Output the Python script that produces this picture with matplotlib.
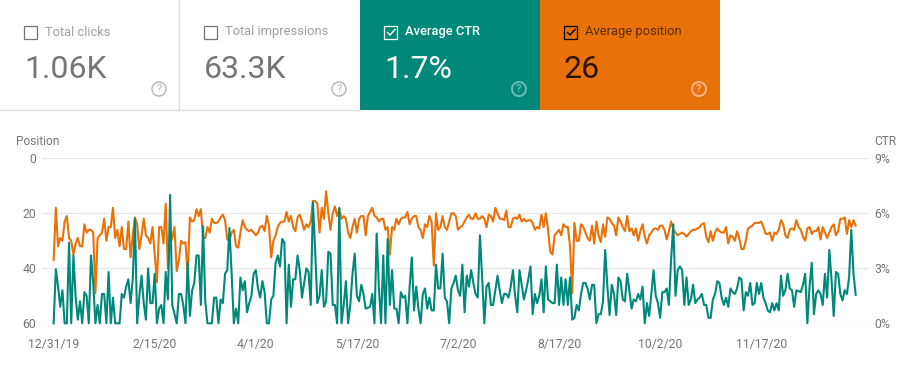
import matplotlib
matplotlib.use('Agg')
import matplotlib.pyplot as plt
from matplotlib.patches import Rectangle, Circle

plt.rcParams['font.family'] = ['Roboto', 'DejaVu Sans']

TEAL = '#00897B'
ORANGE = '#E8710A'
GRAY = '#757575'

card_titles = ['Total clicks', 'Total impressions', 'Average CTR', 'Average position']
card_values = ['1.06K', '63.3K', '1.7%', '26']

x_labels = ['12/31/19', '2/15/20', '4/1/20', '5/17/20', '7/2/20', '8/17/20', '10/2/20', '11/17/20']
x_days = [0, 46, 92, 138, 184, 230, 276, 322]
position_ticks = [0, 20, 40, 60]
ctr_ticks = [0, 3, 6, 9]

# one value per day
position = [
    37, 18, 32, 29, 30, 23, 21, 29, 30, 35, 31, 29, 32, 32, 24, 27, 26, 26, 27, 49,
    29, 28, 27, 22, 30, 25, 25, 18, 29, 26, 32, 25, 33, 33, 23, 36, 28, 21.5, 24, 33,
    28, 22, 28, 29, 31, 25, 35, 45, 25, 25, 31, 16.5, 40, 31, 29, 25, 41, 37, 30, 31,
    30.5, 43, 21.5, 23, 22.5, 18.5, 21, 18.5, 29, 29, 25, 27, 22, 23.5, 23.5, 23, 21.5, 20.5, 22.5, 29.5,
    30, 27, 26, 32, 32.5, 27, 22.5, 25, 26, 26.5, 26, 27, 28, 27, 25, 24.5, 26.5, 21, 24.5, 36,
    30, 28, 25, 23.5, 23, 23, 19.5, 23, 21, 25, 26.5, 21.5, 20.5,
    23, 26, 24, 25, 23, 15.5, 15.5, 16.5, 27, 18, 22, 12, 20, 26, 20, 17.5, 21, 18.5, 22, 21,
    22, 27, 29, 25, 22, 27, 22, 21, 21, 28, 21, 19.5, 18, 21, 21.5, 23, 22, 22, 26, 25,
    35, 25, 26, 22, 24, 22, 21.5, 21.5, 19.5, 24, 22, 21, 21, 25, 26, 29, 24, 25, 21, 23,
    39, 20, 26, 25, 21, 25, 26, 23, 20, 20, 21, 26, 25, 24.5, 23, 21.5, 20.5, 22, 22, 20,
    22, 22, 21, 22, 25, 20.5, 21, 23, 18, 20, 22, 22, 22.5, 19, 25, 25, 22, 21.5, 22, 20.5,
    23, 22, 23, 22.5, 22.5, 23.5, 26, 25, 25.5, 20.5, 25, 20, 26, 34, 35, 28, 27, 26, 28, 24,
    25, 25, 32, 49, 23.5, 30, 30, 24, 25, 27, 29, 30, 24.5, 31, 23, 28,
    30.5, 24, 28.5, 21.5, 22, 23.5, 24.5, 28, 21.5, 23, 25, 26.5, 21, 26.5, 25.5, 28, 25.5, 30, 26.5, 24,
    28.5, 31, 28, 27, 25.7, 25.5, 26, 24.5, 24.5, 26, 29.5, 26.5, 23, 26, 27, 28, 27.5, 27, 27.5, 28.5,
    27.5, 26.5, 26, 26, 25.5, 25, 24, 23.6, 28.5, 30.5, 26.5, 30, 27, 25.5, 26.5, 27, 27, 25, 31, 28,
    28.5, 30, 26.5, 29, 33, 33, 30, 25.5, 25, 24.5, 23.5, 23.5, 23.5, 23, 25, 27.5, 27.5, 27, 30, 27,
    27.5, 26, 22.5, 24, 28, 29, 26, 25.5, 26, 22.5, 25, 26, 28.5, 30, 25.5, 25, 27.5, 26.5, 26.5, 25,
    29.5, 25, 27, 29, 27, 25, 24, 28, 26.5, 22, 22, 21.5, 27.5, 22.5, 25, 22.5, 24.5,
]

ctr = [
    0, 2.95, 2, .9, 1.8, 0, 0, 4.4, 0, 3.7, 1.45, .2, 1.2, 0, 1.7, 1.5, 0, 3.7, 2.2, 0,
    1, 0, 1.6, 1.6, 0, 2.8, 0, 1.4, 0, 0, 0, 1.6, 1.4, 2, 2.4, 1.1, 2.4, 5.7, 0, 1.5,
    2.6, 1.1, .2, 3, 1.1, 1.1, 2.7, 0, .8, 1, 0, 2.8, 1.3, 7, 1, .5, 0, 1.6, 1.6, 1,
    0, 3.3, .4, 1.8, 2.2, 3.7, 3.7, 1, 5.3, 1.2, 0, 0, 0, 1.4, 1.4, 0, 1.3, 1.1, 2.7, 2.9,
    5.2, 2.7, 0, .8, 0, 2.5, 1.8, 2.3, .6, 1.1, 1.5, 2.7, 2.9, 1.9, 1.4, 2.3, 1.7, 0, 0, 1.3,
    1.5, 3.3, 3.7, 3.1, 4.6, 4.4, 0, 3.2, .9, 2.4, 2.4, 3.7, 2.9,
    1.4, 2.2, 3, 2.8, 1, 6.6, 4, 1.1, 1.5, 2.9, .9, 1.2, 3.9, 3.8, 1, 1, 0, 6.3, 0, 1,
    2.3, 0, 1, 2.7, 3.8, 1.5, 1.2, 2.1, 1.6, .8, .85, .9, 1.6, 0, 4.9, 2, 0, 3.7, 0, 4.6,
    1, 2.9, .8, .8, 0, 1.7, 1.4, 1.5, 0, 2, 3.6, .7, 2, .8, 0, 1.6, 1.9, .8, 1.4, .7,
    .7, 3.2, 1.9, 1.9, 3.8, 1.4, 1.2, 0, 1.9, 2.2, 2.6, 1.8, 1.5, 3.2, .6, 2.6, 2, 2.9, 2.2, 1.6,
    1.4, 4.8, 2.5, 0, 2, 2.2, 1, 1, 1.8, 2.6, 1.8, 1.1, 1.6, 1.6, 1.4, 2, 2.9, 1.5, .6, 2.9,
    2.1, 1.3, 1.8, 2.4, 3.1, .5, 1.6, 1.1, 1.5, 2.4, .6, 3.1, 1.3, 1.2, 1.1, 1.1, 3.2, 1, 2.5, 1,
    2.4, 1, 2.5, .2, .3, 1, .7, 1.6, 2.2, 2.2, 1.9, 1.3, 2.1, 2.1, 0, .5,
    .5, 1.2, 4, 2, .45, 2.1, 1.6, .45, 2.5, 2.3, 1.3, 1.2, 2.7, 1.8, .8, 1.3, 1.2, 1.6, 1.3, 2,
    0, 1.1, .4, 1.6, 2.9, 1.5, 1.1, .3, 1.7, 1.7, 1.9, 1, 3.5, 5.4, 1.5, 2.9, 3.1, 2.9, 1, 2.5,
    1, 1.3, 2.1, 1.1, 1.3, 1.4, 1.6, 1, 1, .3, .3, 1.3, 1.6, 2.3, 2.2, 1.4, 1, 1.4, .9, 1.9,
    1.7, 1.6, 1.9, 2.5, 2.4, .7, 1.7, 1.5, 2.2, 1, 1.1, 2.2, 1.6, 2.2, 1.4, 1.1, .7, .6, 1.1, .7,
    1.1, .7, 2.6, 1.5, 1.8, 2.7, 1.9, 1.8, .9, 1.8, 1.75, 1.7, 2.1, 2.7, 0, 2, 3.3, .5, 1.6, 1.8,
    1.6, 1, 2.7, 1.4, 4, 2.4, .4, 2.8, 2.7, 1.6, 1.25, 1.8, 1.6, 2.5, 5.1, 2.7, 1.55,
]

assert len(position) == 366 and len(ctr) == 366, (len(position), len(ctr))

W, H = 912, 377
fig = plt.figure(figsize=(W / 100, H / 100), dpi=100)

# full figure overlay in pixel coords for the cards
bg = fig.add_axes([0, 0, 1, 1])
bg.set_xlim(0, W)
bg.set_ylim(H, 0)
bg.axis('off')

card_x = [0, 180, 360, 540]
face = ['white', 'white', TEAL, ORANGE]
title_col = ['#9e9e9e', '#9e9e9e', 'white', '#5a2c04']
value_col = ['#757575', '#757575', 'white', '#2b1403']
box_col = ['#757575', '#757575', 'white', 'black']
help_col = ['#b4b4b4', '#b4b4b4', '#66b8b0', '#f4b27c']

for i, left in enumerate(card_x):
    bg.add_patch(Rectangle((left, 0), 180, 110, fc=face[i], ec='none'))
    bg.add_patch(Rectangle((left + 24.5, 26), 13, 13, fc='none', ec=box_col[i], lw=0.9))
    if i >= 2:
        bg.plot([left + 27.5, left + 30, left + 35], [32.5, 35, 29.5], color=box_col[i], lw=1.0)
    bg.text(left + 45, 32, card_titles[i], color=title_col[i], fontsize=9.3, va='center',
            fontweight='medium' if i == 2 else 'normal')
    bg.text(left + 24, 78, card_values[i], color=value_col[i], fontsize=23, va='baseline')
    bg.add_patch(Circle((left + 159, 89), 7, fc='none', ec=help_col[i], lw=1.0 if i < 2 else 1.5))
    bg.text(left + 159, 89.5, '?', color=help_col[i], fontsize=8, ha='center', va='center',
            fontweight='normal' if i < 2 else 'bold')

bg.plot([0, 360], [109.5, 109.5], color='#e0e0e0', lw=1)
bg.plot([179.5, 179.5], [0, 110], color='#e0e0e0', lw=1)

bg.text(16, 141.5, 'Position', color=GRAY, fontsize=8.6, va='center')
bg.text(874, 141.5, 'CTR', color=GRAY, fontsize=8.6, va='center')

# chart
left, right, top, bottom = 42, 868, 158.3, 323.3
ax = fig.add_axes([left / W, 1 - bottom / H, (right - left) / W, (bottom - top) / H])
ax.patch.set_alpha(0)
days = list(range(len(position)))
ax.plot(days, position, color=ORANGE, lw=1.5, clip_on=False, zorder=3)
ax.set_xlim(-5.3, 370.6)
ax.set_ylim(60, 0)
ax.set_yticks(position_ticks)
ax.set_xticks(x_days)
ax.set_xticklabels(x_labels)
ax.grid(axis='y', color='#e8e8e8', lw=1)
ax.set_axisbelow(True)
ax.tick_params(length=0, labelcolor=GRAY, labelsize=8.8)
ax.tick_params(axis='x', pad=10.5)
ax.tick_params(axis='y', pad=4.3)
for s in ax.spines.values():
    s.set_visible(False)

ax2 = ax.twinx()
ax2.plot(days, ctr, color=TEAL, lw=1.5, clip_on=False, zorder=3)
ax2.set_ylim(0, 9)
ax2.set_yticks(ctr_ticks)
ax2.set_yticklabels([f'{t}%' for t in ctr_ticks])
ax2.tick_params(length=0, labelcolor=GRAY, labelsize=8.8, pad=4.3)
for s in ax2.spines.values():
    s.set_visible(False)

fig.savefig('out.png', dpi=100)
